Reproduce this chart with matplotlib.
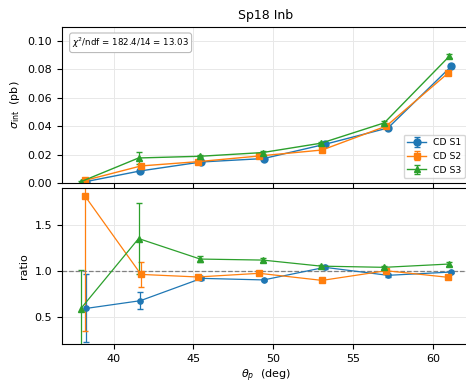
import matplotlib
matplotlib.use('Agg')
import matplotlib.pyplot as plt

plt.rcParams['font.size'] = 8

# theta_p bin centers (slightly shifted per series)
theta_s1 = [38.27, 41.67, 45.50, 49.40, 53.23, 57.19, 61.17]
theta_s2 = [38.19, 41.71, 45.27, 49.12, 53.06, 57.08, 60.98]
theta_s3 = [37.92, 41.56, 45.42, 49.33, 53.00, 56.96, 61.04]

# integrated cross sections (pb)
sig_s1 = [0.0010, 0.0085, 0.0148, 0.0172, 0.0272, 0.0387, 0.0822]
sig_s2 = [0.0018, 0.0120, 0.0150, 0.0190, 0.0232, 0.0400, 0.0775]
sig_s3 = [0.0008, 0.0176, 0.0188, 0.0214, 0.0280, 0.0423, 0.0892]
sig_err_s1 = [0.0004, 0.0008, 0.0005, 0.0006, 0.0008, 0.0010, 0.0012]
sig_err_s2 = [0.0012, 0.0015, 0.0006, 0.0006, 0.0008, 0.0010, 0.0012]
sig_err_s3 = [0.0008, 0.0045, 0.0008, 0.0008, 0.0008, 0.0010, 0.0012]

# ratios
ratio_s1 = [0.59, 0.674, 0.917, 0.90, 1.037, 0.95, 0.986]
ratio_s2 = [1.815, 0.96, 0.932, 0.972, 0.895, 1.0, 0.928]
ratio_s3 = [0.584, 1.35, 1.127, 1.116, 1.05, 1.037, 1.073]
ratio_err_s1 = [0.37, 0.095, 0.02, 0.015, 0.015, 0.015, 0.015]
ratio_err_s2 = [1.47, 0.135, 0.02, 0.015, 0.015, 0.015, 0.015]
ratio_err_s3 = [0.42, 0.39, 0.035, 0.02, 0.015, 0.015, 0.02]

labels = ['CD S1', 'CD S2', 'CD S3']
colors = ['#1f77b4', '#ff7f0e', '#2ca02c']
markers = ['o', 's', '^']

fig = plt.figure(figsize=(4.66, 3.83), dpi=100)
ax1 = fig.add_axes([62 / 466, 1 - 183 / 383, 408 / 466, 156 / 383])
ax2 = fig.add_axes([62 / 466, 1 - 344 / 383, 408 / 466, 156 / 383])

thetas = [theta_s1, theta_s2, theta_s3]
sigs = [sig_s1, sig_s2, sig_s3]
sig_errs = [sig_err_s1, sig_err_s2, sig_err_s3]
ratios = [ratio_s1, ratio_s2, ratio_s3]
ratio_errs = [ratio_err_s1, ratio_err_s2, ratio_err_s3]

for th, s, e, lab, c, m in zip(thetas, sigs, sig_errs, labels, colors, markers):
    ax1.errorbar(th, s, yerr=e, marker=m, color=c, label=lab, ms=5,
                 capsize=2, lw=1, elinewidth=0.9)

for th, r, e, c, m in zip(thetas, ratios, ratio_errs, colors, markers):
    ax2.errorbar(th, r, yerr=e, marker=m, color=c, ms=3.8,
                 capsize=2, lw=0.9, elinewidth=0.9)

ax2.axhline(1.0, color='grey', ls='--', lw=0.9)

for ax in (ax1, ax2):
    ax.set_xlim(36.76, 62.33)
    ax.grid(True, color='#e8e8e8', lw=0.7)
    ax.set_axisbelow(True)

ax1.set_ylim(0, 0.1097)
ax1.set_yticks([0.0, 0.02, 0.04, 0.06, 0.08, 0.10])
ax1.set_xticks([40, 45, 50, 55, 60])
ax1.tick_params(labelbottom=False)
ax1.set_ylabel(r'$\sigma_{\rm int}$  (pb)')
ax1.set_title('Sp18 Inb', fontsize=9)
ax1.legend(loc='lower right', fontsize=6.7)
ax1.text(0.025, 0.945, r'$\chi^2$/ndf = 182.4/14 = 13.03', transform=ax1.transAxes,
         fontsize=6.2, va='top', ha='left',
         bbox=dict(boxstyle='round,pad=0.3', fc='white', ec='#bbbbbb', lw=0.8))

ax2.set_ylim(0.203, 1.90)
ax2.set_yticks([0.5, 1.0, 1.5])
ax2.set_xticks([40, 45, 50, 55, 60])
ax2.set_ylabel('ratio')
ax2.set_xlabel(r'$\theta_p$  (deg)', labelpad=2.5)

fig.savefig('out.png', dpi=100)
